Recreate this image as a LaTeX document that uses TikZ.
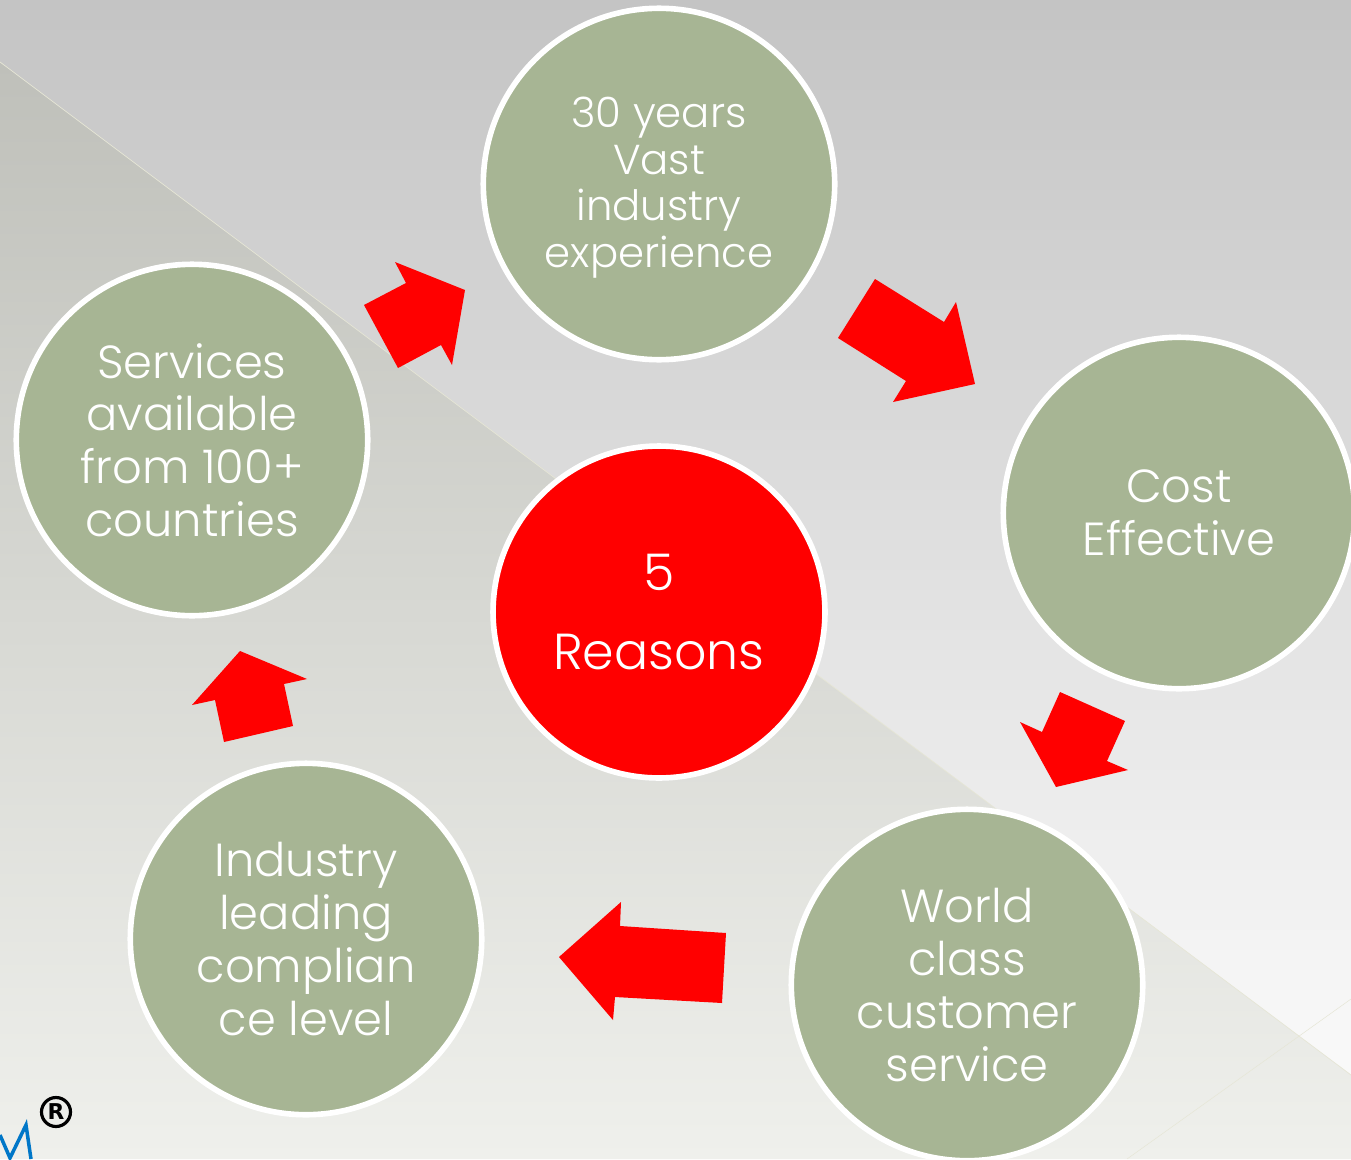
\documentclass[tikz,border=0pt]{standalone}
\usepackage{fontspec}
\setmainfont{Poppins Light}
\newfontfamily\logofont{DejaVu Sans}
\definecolor{reasongreen}{HTML}{A7B594}
\definecolor{faintline}{HTML}{E6E6D6}
\definecolor{logoblue}{HTML}{0077C8}
\tikzset{
  reason/.style={circle, draw=white, line width=3.2pt, fill=reasongreen, minimum size=7.03cm, text=white, align=center, inner sep=0pt},
  bigtext/.style={font=\fontsize{26.4}{30}\selectfont},
  toptext/.style={font=\fontsize{23.8}{26.6}\selectfont},
  flow/.style={fill=red, draw=none}
}
\begin{document}
\begin{tikzpicture}[x=0.02cm, y=-0.02cm]
  \useasboundingbox (0,0) rectangle (1351,1159);
  % backdrop
  \definecolor{skytop}{HTML}{C4C4C4}
  \definecolor{skymid}{HTML}{F2F2F2}
  \definecolor{skylow}{HTML}{FEFEFE}
  \definecolor{wedgetop}{HTML}{BFC0BA}
  \definecolor{wedgemid}{HTML}{E3E3DF}
  \definecolor{wedgelow}{HTML}{EFF0EC}
  \shade[top color=skytop, middle color=skymid, bottom color=skylow] (0,0) rectangle (1351,1159);
  \shade[top color=wedgetop, middle color=wedgemid, bottom color=wedgelow] (0,62) -- (1351,1075) -- (1351,1159) -- (0,1159) -- cycle;
  \draw[faintline, line width=0.4pt] (0,62) -- (1351,1075);
  \draw[faintline, line width=0.3pt] (1351,999) -- (1127,1159);
  % circles
  \node[reason, toptext] (years) at (659,184) {\rule{0pt}{21.5pt}30 years\\Vast\\industry\\experience};
  \node[reason, bigtext] (cost) at (1179,513) {Cost\\Effective};
  \node[reason, bigtext] (world) at (967,985) {World\\class\\customer\\service};
  \node[reason, bigtext] (industry) at (306,939) {Industry\\leading\\complian\\ce level};
  \node[reason, bigtext] (services) at (192,440) {Services\\available\\from 100+\\countries};
  \node[reason, fill=red, minimum size=6.64cm, font=\fontsize{28.8}{45}\selectfont] (five) at (659,612) {5\\Reasons};
  % arrows
  \fill[flow] (364,305) -- (406,283) -- (395,262) -- (465,290) -- (452,365) -- (441,345) -- (398,368) -- cycle;
  \fill[flow] (875,279) -- (944,322) -- (956,302) -- (975,384) -- (893,402) -- (906,381) -- (838,338) -- cycle;
  \fill[flow] (1060,692) -- (1125,721) -- (1107,761) -- (1128,770) -- (1056,787) -- (1020,722) -- (1042,732) -- cycle;
  \fill[flow] (726,933) -- (722,1003) -- (615,997) -- (613,1020) -- (559,957) -- (621,902) -- (620,926) -- cycle;
  \fill[flow] (224,742) -- (293,726) -- (284,684) -- (307,679) -- (240,651) -- (192,705) -- (215,700) -- cycle;
  % logo corner
  \draw[logoblue, line width=2pt] (0,1135) -- (10,1158) -- (26,1125) -- (31,1159);
  \node[circle, draw=black, line width=1.8pt, inner sep=0pt, minimum size=0.58cm, font=\logofont\bfseries\fontsize{12.4}{12.4}\selectfont] (mark) at (56,1112) {R};
\end{tikzpicture}
\end{document}
